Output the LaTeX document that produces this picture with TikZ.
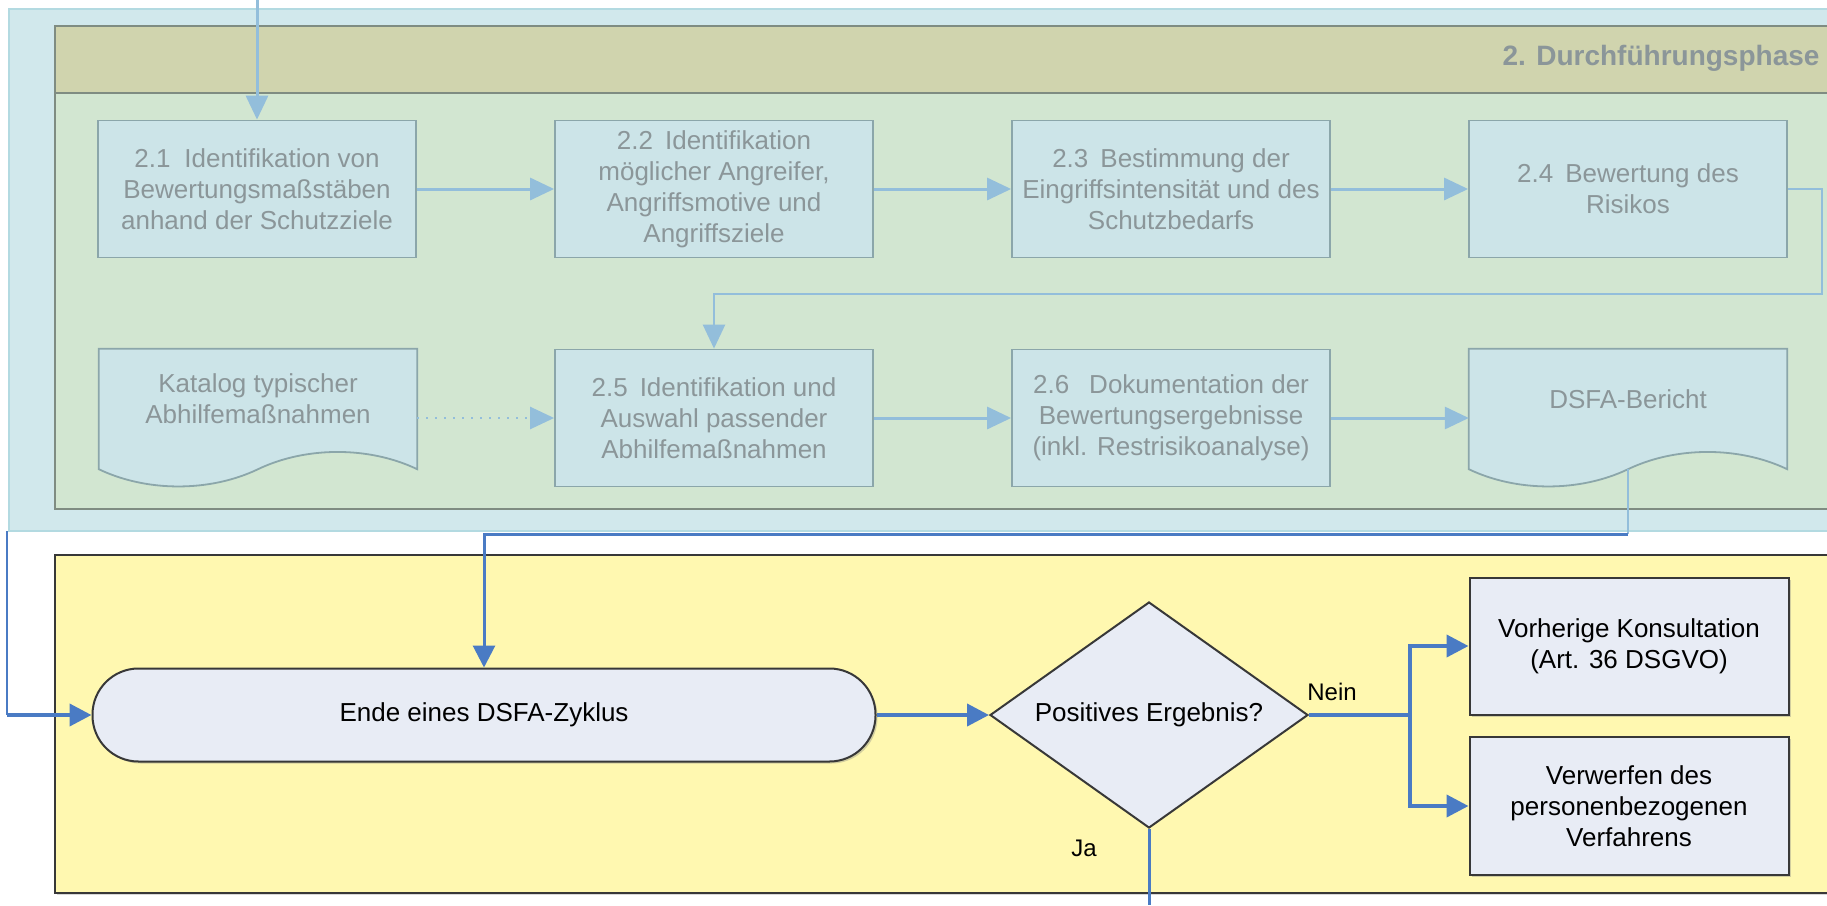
\documentclass[tikz,border=0pt]{standalone}
\usepackage{fontspec}
\setmainfont{Liberation Sans}
\usetikzlibrary{arrows.meta,shapes.geometric,calc,shadows}
\pgfdeclarelayer{back}
\pgfdeclarelayer{bg}
\pgfsetlayers{back,bg,main}
\definecolor{lanefill}{HTML}{D1E8EC}
\definecolor{laneedge}{HTML}{B3DAE1}
\definecolor{poolfill}{HTML}{D2E6D1}
\definecolor{pooledge}{HTML}{7F8C82}
\definecolor{headfill}{HTML}{D0D4AE}
\definecolor{boxfill}{HTML}{CCE4E8}
\definecolor{boxedge}{HTML}{8BA6AA}
\definecolor{boxtext}{HTML}{8B9699}
\definecolor{lightarrow}{HTML}{93BEDB}
\definecolor{darkarrow}{HTML}{4A7BC4}
\definecolor{yellowfill}{HTML}{FFF8B0}
\definecolor{lowfill}{HTML}{E8ECF5}
\definecolor{lowedge}{HTML}{383838}
\begin{document}
\begin{tikzpicture}[x=1pt,y=1pt,
  txt/.style={font=\fontsize{26}{31}\selectfont},
  upbox/.style={txt, rectangle, draw=boxedge, fill=boxfill, line width=1.8pt,
    minimum width=318pt, minimum height=137pt, inner sep=0pt, align=center, text=boxtext},
  docnode/.style={txt, rectangle, minimum width=318pt, minimum height=100pt,
    inner sep=0pt, align=center, text=boxtext},
  docshape/.style={draw=boxedge, fill=boxfill, line width=1.8pt},
  lowbox/.style={txt, rectangle, draw=lowedge, fill=lowfill, line width=2pt,
    minimum width=319pt, minimum height=137pt, inner sep=0pt, align=center, text=black,
    drop shadow={shadow xshift=2pt, shadow yshift=-2pt, opacity=0.35}},
  larrow/.style={draw=lightarrow, line width=3pt, -{Triangle[length=24pt,width=22pt]}},
  lline/.style={draw=lightarrow, line width=2pt},
  darrow/.style={draw=darkarrow, line width=4pt, -{Triangle[length=22pt,width=22pt]}},
  dline/.style={draw=darkarrow, line width=4pt},
  lbl/.style={font=\fontsize{24}{28}\selectfont, text=black, inner sep=0pt}
]
\clip (0,0) rectangle (1827,-905);
\useasboundingbox (0,0) rectangle (1827,-905);

% lanes
\begin{pgfonlayer}{back}
  \fill[white] (0,0) rectangle (1827,-905);
  \draw[fill=lanefill, draw=laneedge, line width=1.5pt] (9,-9) rectangle (1845,-531);
  \draw[fill=poolfill, draw=pooledge, line width=1.5pt] (55,-26) rectangle (1845,-509);
  \draw[fill=headfill, draw=pooledge, line width=1.5pt] (55,-26) rectangle (1845,-93);
  \draw[fill=yellowfill, draw=lowedge, line width=2.5pt,
    drop shadow={shadow xshift=2pt, shadow yshift=-2pt, opacity=0.3}] (55,-555) rectangle (1845,-893);
\end{pgfonlayer}

\node[txt, anchor=east, font=\fontsize{28}{33}\selectfont\bfseries, text=boxtext] (title) at (1823,-58) {2. Durchführungsphase};

% row 1
\node[upbox] (b21) at (257,-189) {2.1\hspace{14pt}Identifikation von\\Bewertungsmaßstäben\\anhand der Schutzziele};
\node[upbox] (b22) at (714,-189) {2.2\hspace{12pt}Identifikation\\möglicher Angreifer,\\Angriffsmotive und\\Angriffsziele};
\node[upbox] (b23) at (1171,-189) {2.3\hspace{12pt}Bestimmung der\\Eingriffsintensität und des\\Schutzbedarfs};
\node[upbox] (b24) at (1628,-189) {2.4\hspace{12pt}Bewertung des\\Risikos};

% row 2
\node[docnode] (kat) at (258,-399) {Katalog typischer\\Abhilfemaßnahmen};
\node[upbox] (b25) at (714,-418) {2.5\hspace{12pt}Identifikation und\\Auswahl passender\\Abhilfemaßnahmen};
\node[upbox] (b26) at (1171,-418) {2.6\hspace{20pt}Dokumentation der\\Bewertungsergebnisse\\(inkl. Restrisikoanalyse)};
\node[docnode] (rep) at (1628,-399) {DSFA-Bericht};

\begin{pgfonlayer}{bg}
  \foreach \d in {kat,rep}{
    \draw[docshape] (\d.north west) -- (\d.north east) -- ([yshift=-20pt]\d.south east)
      .. controls +(-48pt,23pt) and +(48pt,23pt) .. ([yshift=-20pt]\d.south)
      .. controls +(-48pt,-23pt) and +(48pt,-23pt) .. ([yshift=-20pt]\d.south west) -- cycle;
  }
\end{pgfonlayer}

% lower lane
\node[txt, rectangle, rounded corners=46pt, draw=lowedge, fill=lowfill, line width=2pt,
  minimum width=783pt, minimum height=93pt, text=black,
  drop shadow={shadow xshift=2pt, shadow yshift=-2pt, opacity=0.35}] (ende) at (484,-715) {Ende eines DSFA-Zyklus};
\node[txt, diamond, aspect=1.41, draw=lowedge, fill=lowfill, line width=2pt, minimum width=318pt,
  minimum height=226pt, inner sep=0pt, text=black] (dia) at (1149,-715) {Positives Ergebnis?};
\node[lowbox] (vor) at (1629,-646) {Vorherige Konsultation\\(Art. 36 DSGVO)};
\node[lowbox, minimum height=138pt] (verw) at (1629,-806) {Verwerfen des\\personenbezogenen\\Verfahrens};
\node[lbl] (nein) at (1332,-692) {Nein};
\node[lbl] (ja) at (1084,-848) {Ja};

% coordinates
\coordinate (topin) at (257,0);
\coordinate (loopR) at (1822,-294);
\coordinate (repb) at ([yshift=-20pt]rep.south);
\coordinate (hline) at (0,-534);
\coordinate (lefttop) at (7,-531);
\coordinate (br) at (1410,-715);
\coordinate (jaout) at (1149,-905);

% upper connectors
\draw[larrow] (topin) -- (b21.north);
\draw[larrow] (b21.east) -- (b22.west);
\draw[larrow] (b22.east) -- (b23.west);
\draw[larrow] (b23.east) -- (b24.west);
\draw[larrow, line width=2.5pt] (b24.east) -| (loopR) -| (b25.north);
\draw[larrow, line width=2.5pt, dash pattern=on 2pt off 7pt] (kat.east |- b25.west) -- (b25.west);
\draw[larrow] (b25.east) -- (b26.west);
\draw[larrow] (b26.east) -- (b26.east -| rep.west);
\draw[lline] (repb) -- (repb |- hline);
\draw[darrow, line width=3pt] (repb |- hline) -| (ende.north);

% lower connectors
\draw[draw=darkarrow, line width=1.5pt] (lefttop) -- (lefttop |- ende.west);
\draw[darrow] (lefttop |- ende.west) -- (ende.west);
\draw[darrow] (ende.east) -- (dia.west);
\draw[dline] (dia.east) -- (br);
\draw[darrow] (br) |- (vor.west);
\draw[darrow] (br) |- (verw.west);
\draw[dline, line width=3pt] (dia.south) -- (jaout);
\end{tikzpicture}
\end{document}
